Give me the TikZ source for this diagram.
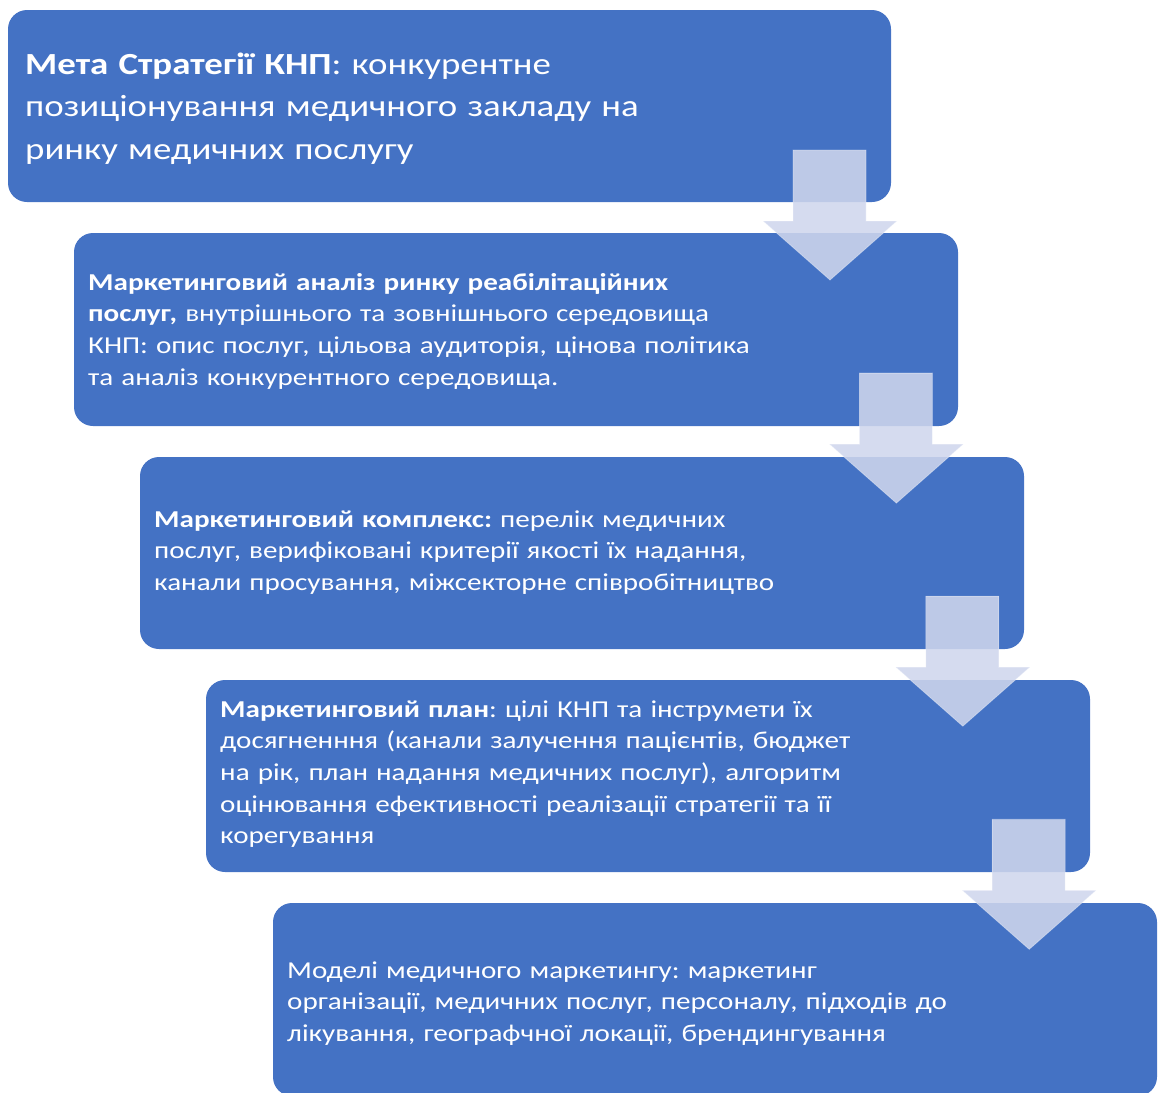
\documentclass[tikz,border=0pt]{standalone}
\usepackage{fontspec}
\setmainfont{Carlito}[FakeStretch=1.2]
\definecolor{boxblue}{HTML}{4472C4}
\definecolor{arrowfill}{HTML}{CFD6ED}
\begin{document}
\frenchspacing
\begin{tikzpicture}[x=1pt,y=-1pt,
  stagebox/.style={fill=boxblue, draw=none, rounded corners=19pt},
  stagetext/.style={anchor=base west, inner sep=0pt, text=white, text width=900pt, align=left,
    font=\fontsize{24.25}{31.7}\selectfont},
  bigtext/.style={stagetext, font=\fontsize{30.7}{42.5}\selectfont},
  downarrow/.style={fill=arrowfill, fill opacity=0.87, draw=white, draw opacity=0.35, line width=0.8pt}
]
\useasboundingbox (0,0) rectangle (1163,1093);
% boxes
\fill[stagebox] (8,10) rectangle (891,202);
\fill[stagebox] (74,233) rectangle (958,426);
\fill[stagebox] (140,457) rectangle (1024,649);
\fill[stagebox] (206,680) rectangle (1090,872);
\fill[stagebox] (273,903) rectangle (1157,1096);
% texts
\node[bigtext] (t1) at (25,74) {\textbf{Мета Стратегії КНП}: конкурентне\\позиціонування медичного закладу на\\ринку медичних послугу};
\node[stagetext] (t2) at (88,290) {\textbf{Маркетинговий аналіз ринку реабілітаційних}\\\textbf{послуг,} внутрішнього та зовнішнього середовища\\КНП: опис послуг, цільова аудиторія, цінова політика\\та аналіз конкурентного середовища.};
\node[stagetext] (t3) at (154,527) {\textbf{Маркетинговий комплекс:} перелік медичних\\послуг, верифіковані критерії якості їх надання,\\канали просування, міжсекторне співробітництво};
\node[stagetext] (t4) at (220,717) {\textbf{Маркетинговий план}: цілі КНП та інструмети їх\\досягненння (канали залучення пацієнтів, бюджет\\на рік, план надання медичних послуг), алгоритм\\оцінювання ефективності реалізації стратегії та її\\корегування};
\node[stagetext] (t5) at (287,978) {Моделі медичного маркетингу: маркетинг\\організації, медичних послуг, персоналу, підходів до\\лікування, географчної локації, брендингування};
% arrows
\foreach \i in {0,1,2,3}{
  \begin{scope}[shift={(66.4*\i,223.1*\i)}]
    \filldraw[downarrow] (793,150) -- (866,150) -- (866,221) -- (897,221) -- (830,280) -- (763,221) -- (793,221) -- cycle;
  \end{scope}
}
\end{tikzpicture}
\end{document}
